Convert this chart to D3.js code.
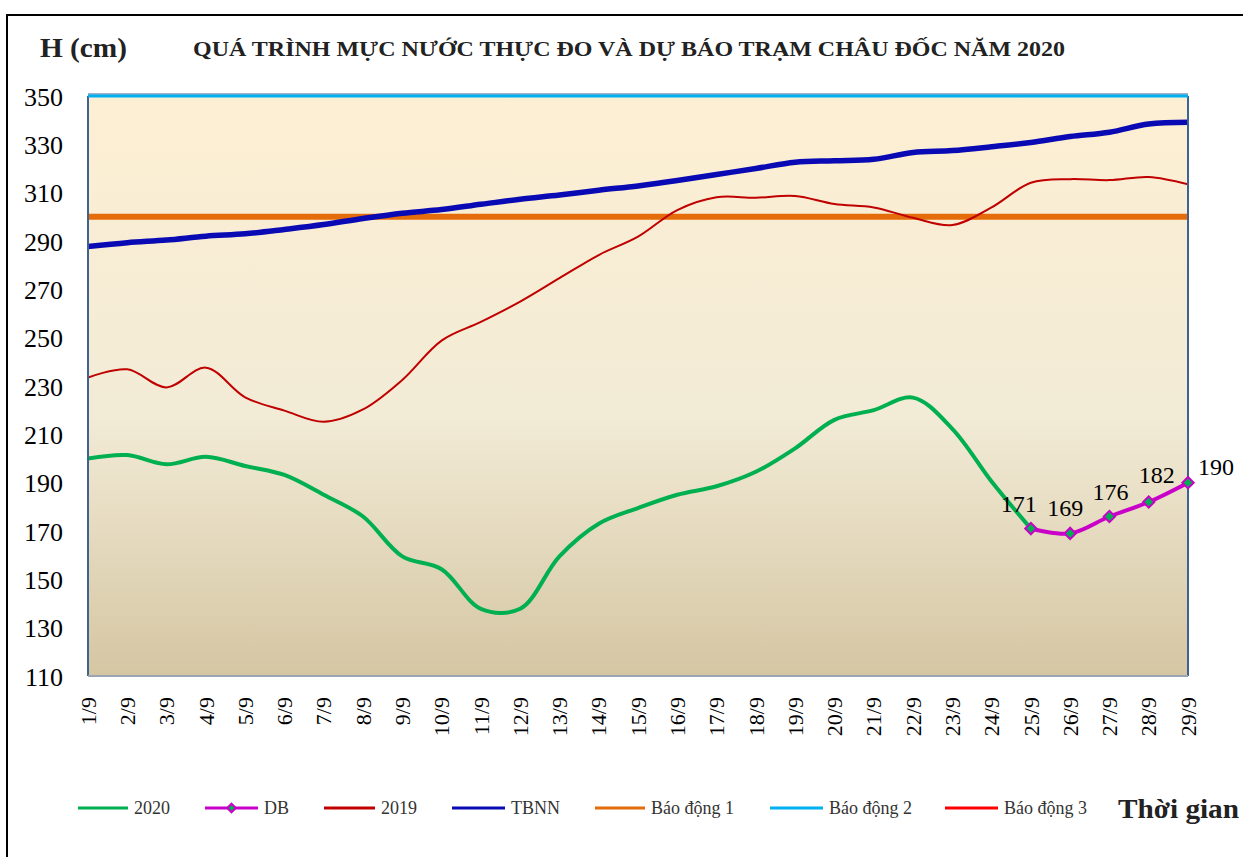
<!DOCTYPE html>
<html>
<head>
<meta charset="utf-8">
<script src="https://cdn.jsdelivr.net/npm/d3@7"></script>
<style>
  html, body { margin: 0; padding: 0; background: #fff; }
  svg { display: block; }
</style>
</head>
<body>
<svg id="chart" width="1243" height="857"></svg>
<script>
// ---------- DATA ----------
const dates = ["1/9","2/9","3/9","4/9","5/9","6/9","7/9","8/9","9/9","10/9","11/9","12/9","13/9","14/9","15/9",
  "16/9","17/9","18/9","19/9","20/9","21/9","22/9","23/9","24/9","25/9","26/9","27/9","28/9","29/9"];
const yTicks = [110,130,150,170,190,210,230,250,270,290,310,330,350];

const series2020 = [200, 201.4, 197.6, 200.7, 196.9, 193.2, 185, 176, 159.5, 154.2, 137.8, 137.8, 159.5,
  173, 179.5, 185, 188.5, 194.5, 204.2, 216, 220, 225.2, 212.3, 190.5, 171];
const seriesDB = [171, 169, 176, 182, 190];          // 25/9 .. 29/9
const dbStart = 24;                                  // index of 25/9
const series2019 = [233.5, 236.9, 229.4, 237.6, 225.3, 219.8, 215.2, 220.3, 232.5, 248.8, 256.5, 264.9, 274.6,
  284.2, 291.8, 302.8, 308.1, 307.9, 308.6, 305.3, 303.9, 299.6, 296.6, 303.9, 314.1, 315.6, 315.2, 316.5, 313.5];
const seriesTBNN = [287.7, 289.3, 290.4, 292, 293, 294.8, 296.8, 299.3, 301.5, 303, 305.2, 307.3, 309, 311,
  312.8, 315, 317.5, 320, 322.6, 323.2, 323.8, 326.6, 327.4, 329, 330.8, 333.2, 335, 338.4, 339.1];
const alarm1 = 300;
const alarm2 = 350;
const alarm3 = 400;

const legendNames = ["2020","DB","2019","TBNN","Báo động 1","Báo động 2","Báo động 3"];
const titleText = "QUÁ TRÌNH MỰC NƯỚC THỰC ĐO VÀ DỰ BÁO TRẠM CHÂU ĐỐC NĂM  2020";
const yTitle = "H (cm)";
const xTitle = "Thời gian";

// ---------- STYLE ----------
const C = {
  g2020: "#00B050", db: "#C800C8", s2019: "#C00000", tbnn: "#0A0AB4",
  a1: "#E46C0A", a2: "#00B0F0", a3: "#FF0000"
};
const font = "'Liberation Serif', 'Times New Roman', serif";
const L = 88, R = 1188, T = 96, B = 676;

const svg = d3.select("#chart");
const x = d3.scalePoint().domain(dates).range([L, R]);
const y = d3.scaleLinear().domain([110, 350]).range([B, T]);

// outer frame
svg.append("rect").attr("x", 7).attr("y", 15).attr("width", 1260).attr("height", 860)
  .attr("fill", "none").attr("stroke", "#000").attr("stroke-width", 2);

// background gradient
const defs = svg.append("defs");
const grad = defs.append("linearGradient").attr("id", "bg").attr("x1", 0).attr("y1", 0).attr("x2", 0).attr("y2", 1);
grad.append("stop").attr("offset", "0%").attr("stop-color", "#FDEFD3");
grad.append("stop").attr("offset", "55%").attr("stop-color", "#F2EBD6");
grad.append("stop").attr("offset", "100%").attr("stop-color", "#D5C6A3");
defs.append("clipPath").attr("id", "clip").append("rect")
  .attr("x", L).attr("y", T - 4).attr("width", R - L).attr("height", B - T + 4);

svg.append("rect").attr("x", L).attr("y", T).attr("width", R - L).attr("height", B - T)
  .attr("fill", "url(#bg)");

// y axis labels
const yAxis = d3.axisLeft(y).tickValues(yTicks).tickSize(0).tickPadding(0);
const gy = svg.append("g").attr("transform", `translate(63,0)`).call(yAxis);
gy.select(".domain").remove();
gy.selectAll("text").attr("font-family", font).attr("font-size", 26).attr("fill", "#000")
  .attr("dy", "0.35em");

// x axis labels (rotated)
const gx = svg.append("g");
gx.selectAll("text").data(dates).join("text")
  .attr("transform", d => `translate(${x(d)},697) rotate(-90)`)
  .attr("text-anchor", "end").attr("dy", "0.35em")
  .attr("font-family", font).attr("font-size", 22).attr("fill", "#000")
  .text(d => d);

const curve = d3.curveCatmullRom.alpha(0.5);
const lineGen = d3.line().x(d => x(d.d)).y(d => y(d.v)).curve(curve);
const toPts = (arr, start = 0) => arr.map((v, i) => ({ d: dates[i + start], v }));

const plot = svg.append("g").attr("clip-path", "url(#clip)");

// alarm 1
plot.append("line").attr("x1", L).attr("x2", R).attr("y1", y(alarm1)).attr("y2", y(alarm1))
  .attr("stroke", C.a1).attr("stroke-width", 6);

// series
plot.append("path").attr("d", lineGen(toPts(seriesTBNN))).attr("fill", "none")
  .attr("stroke", C.tbnn).attr("stroke-width", 5.5);
plot.append("path").attr("d", lineGen(toPts(series2019))).attr("fill", "none")
  .attr("stroke", C.s2019).attr("stroke-width", 2);
plot.append("path").attr("d", lineGen(toPts(series2020))).attr("fill", "none")
  .attr("stroke", C.g2020).attr("stroke-width", 4);

// plot border
svg.append("line").attr("x1", L).attr("x2", L).attr("y1", T).attr("y2", B).attr("stroke", "#3F6290").attr("stroke-width", 2);
svg.append("line").attr("x1", R).attr("x2", R).attr("y1", T).attr("y2", B).attr("stroke", "#3F6290").attr("stroke-width", 2);
svg.append("line").attr("x1", L).attr("x2", R).attr("y1", B).attr("y2", B).attr("stroke", "#9AA4B4").attr("stroke-width", 2);
svg.append("line").attr("x1", L).attr("x2", R).attr("y1", T - 2).attr("y2", T - 2).attr("stroke", "#3F6290").attr("stroke-width", 1);
// alarm 2 at top
svg.append("line").attr("x1", L).attr("x2", R).attr("y1", y(alarm2)).attr("y2", y(alarm2))
  .attr("stroke", C.a2).attr("stroke-width", 3);

// DB forecast
const dbPts = toPts(seriesDB, dbStart);
svg.append("path").attr("d", lineGen(dbPts)).attr("fill", "none")
  .attr("stroke", C.db).attr("stroke-width", 4);
const diamond = d3.symbol().type(d3.symbolSquare).size(64);
svg.selectAll(".mk").data(dbPts).join("path").attr("class", "mk")
  .attr("transform", d => `translate(${x(d.d)},${y(d.v)}) rotate(45)`)
  .attr("d", diamond).attr("fill", C.g2020).attr("stroke", C.db).attr("stroke-width", 2);

// data labels
const labelDx = [-12, -5, 1, 8, 28];
const labelDy = [-17, -17, -17, -19, -8];
svg.selectAll(".lbl").data(dbPts).join("text").attr("class", "lbl")
  .attr("x", (d, i) => x(d.d) + labelDx[i]).attr("y", (d, i) => y(d.v) + labelDy[i])
  .attr("text-anchor", "middle").attr("font-family", font).attr("font-size", 24).attr("fill", "#000")
  .text(d => d.v);

// titles
svg.append("text").attr("x", 40).attr("y", 57).attr("font-family", font).attr("font-weight", "bold")
  .attr("font-size", 27).attr("textLength", 87).attr("lengthAdjust", "spacingAndGlyphs")
  .attr("fill", "#222").text(yTitle);
svg.append("text").attr("x", 193).attr("y", 56).attr("font-family", font).attr("font-weight", "bold")
  .attr("font-size", 21).attr("textLength", 872).attr("lengthAdjust", "spacingAndGlyphs")
  .attr("fill", "#222").text(titleText);
svg.append("text").attr("x", 1118).attr("y", 818).attr("font-family", font).attr("font-weight", "bold")
  .attr("font-size", 28).attr("textLength", 121).attr("lengthAdjust", "spacingAndGlyphs")
  .attr("fill", "#222").text(xTitle);

// legend
const legColors = [C.g2020, C.db, C.s2019, C.tbnn, C.a1, C.a2, C.a3];
const legX = [78, 205, 324, 452, 595, 770, 945];
const legW = [50, 53, 51, 53, 50, 53, 53];
const ly = 808;
const lg = svg.append("g");
legendNames.forEach((name, i) => {
  lg.append("line").attr("x1", legX[i]).attr("x2", legX[i] + legW[i]).attr("y1", ly).attr("y2", ly)
    .attr("stroke", legColors[i]).attr("stroke-width", 3);
  if (name === "DB") {
    lg.append("path").attr("transform", `translate(${legX[i] + legW[i] / 2},${ly}) rotate(45)`)
      .attr("d", d3.symbol().type(d3.symbolSquare).size(36)).attr("fill", C.g2020)
      .attr("stroke", C.db).attr("stroke-width", 2);
  }
  lg.append("text").attr("x", legX[i] + legW[i] + 6).attr("y", ly + 6)
    .attr("font-family", font).attr("font-size", 18).attr("fill", "#333").text(name);
});
</script>
</body>
</html>
